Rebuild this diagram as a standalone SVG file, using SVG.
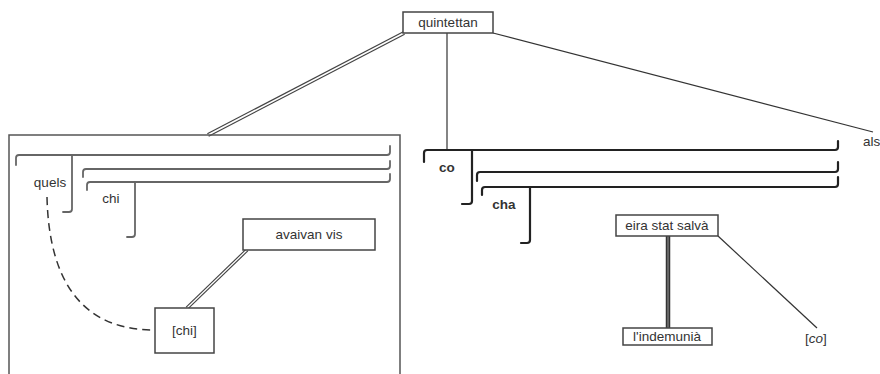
<svg xmlns="http://www.w3.org/2000/svg" width="880" height="374" viewBox="0 0 880 374">
<style>
text{font-family:"Liberation Sans",Arial,sans-serif;font-size:13.5px;fill:#333;}
.b{font-weight:bold;}
.box{fill:#fff;stroke:#444;stroke-width:1.5;}
.brl{fill:none;stroke:#666;stroke-width:1.8;stroke-linecap:round;}
.brr{fill:none;stroke:#222;stroke-width:2.2;stroke-linecap:round;}
.thin{fill:none;stroke:#333;stroke-width:1.2;}
.dbo{fill:none;stroke:#444;stroke-width:4;}
.dbi{fill:none;stroke:#fff;stroke-width:1.6;}
.dash{fill:none;stroke:#333;stroke-width:1.5;stroke-dasharray:8,5;}
</style>
<rect width="880" height="374" fill="#fff"/>
<g id="connectors">
  <line class="dbo" x1="404" y1="33" x2="208" y2="135"/>
  <line class="dbi" x1="404" y1="33" x2="208" y2="135"/>
  <line class="thin" x1="447" y1="33" x2="447" y2="150"/>
  <line class="thin" x1="493" y1="33" x2="873" y2="132"/>
  <line class="dbo" x1="247" y1="250" x2="187" y2="308" style="stroke-width:3.6"/>
  <line class="dbi" x1="247" y1="250" x2="187" y2="308" style="stroke-width:1.3"/>
  <path class="dash" d="M47,197 C49,285 85,330 154,330"/>
  <line x1="668" y1="236" x2="668" y2="328" stroke="#333" stroke-width="4.5"/>
  <line x1="668" y1="236" x2="668" y2="328" stroke="#888" stroke-width="1.2"/>
  <line class="thin" x1="718" y1="236" x2="817" y2="328"/>
</g>
<g id="quintettan">
  <rect class="box" x="403" y="12" width="90" height="21"/>
  <text x="448" y="27" text-anchor="middle">quintettan</text>
</g>
<g id="clause-left">
  <rect x="9" y="135" width="391" height="250" fill="none" stroke="#555" stroke-width="1.5"/>
  <path class="brl" d="M16,165 V158 Q16,155 19,155 H387 Q390,155 390,152 V146"/>
  <path class="brl" d="M72,155 V209 Q72,212 69,212 H63"/>
  <path class="brl" d="M83,177 V172 Q83,169 86,169 H387 Q390,169 390,166 V161"/>
  <path class="brl" d="M87,190 V185 Q87,182 90,182 H387 Q390,182 390,179 V174"/>
  <path class="brl" d="M135,182 V234 Q135,237 132,237 H127"/>
</g>
<g id="quels"><text x="50" y="187" text-anchor="middle">quels</text></g>
<g id="chi"><text x="111" y="203" text-anchor="middle">chi</text></g>
<g id="avaivan-vis">
  <rect class="box" x="243" y="219" width="132" height="31"/>
  <text x="309" y="239" text-anchor="middle">avaivan vis</text>
</g>
<g id="chi-trace">
  <rect class="box" x="155" y="308" width="59" height="45"/>
  <text x="184.5" y="335" text-anchor="middle">[chi]</text>
</g>
<g id="clause-right">
  <path class="brr" d="M424,162 V153 Q424,150 427,150 H835 Q838,150 838,147 V141"/>
  <path class="brr" d="M472,150 V201 Q472,204 469,204 H462"/>
  <path class="brr" d="M477,181 V175 Q477,172 480,172 H835 Q838,172 838,169 V162"/>
  <path class="brr" d="M482,195 V190 Q482,187 485,187 H835 Q838,187 838,184 V177"/>
  <path class="brr" d="M530,187 V240 Q530,243 527,243 H521"/>
</g>
<g id="co"><text class="b" x="447" y="172" text-anchor="middle">co</text></g>
<g id="cha"><text class="b" x="504" y="209" text-anchor="middle">cha</text></g>
<g id="als"><text x="863" y="146">als</text></g>
<g id="eira-stat-salva">
  <rect class="box" x="616" y="215" width="102" height="21"/>
  <text x="667" y="230" text-anchor="middle">eira stat salvà</text>
</g>
<g id="lindemunia">
  <rect class="box" x="623" y="328" width="89" height="17"/>
  <text x="667" y="341" text-anchor="middle">l'indemunià</text>
</g>
<g id="co-trace"><text x="805" y="343">[<tspan font-style="italic">co</tspan>]</text></g>
</svg>
